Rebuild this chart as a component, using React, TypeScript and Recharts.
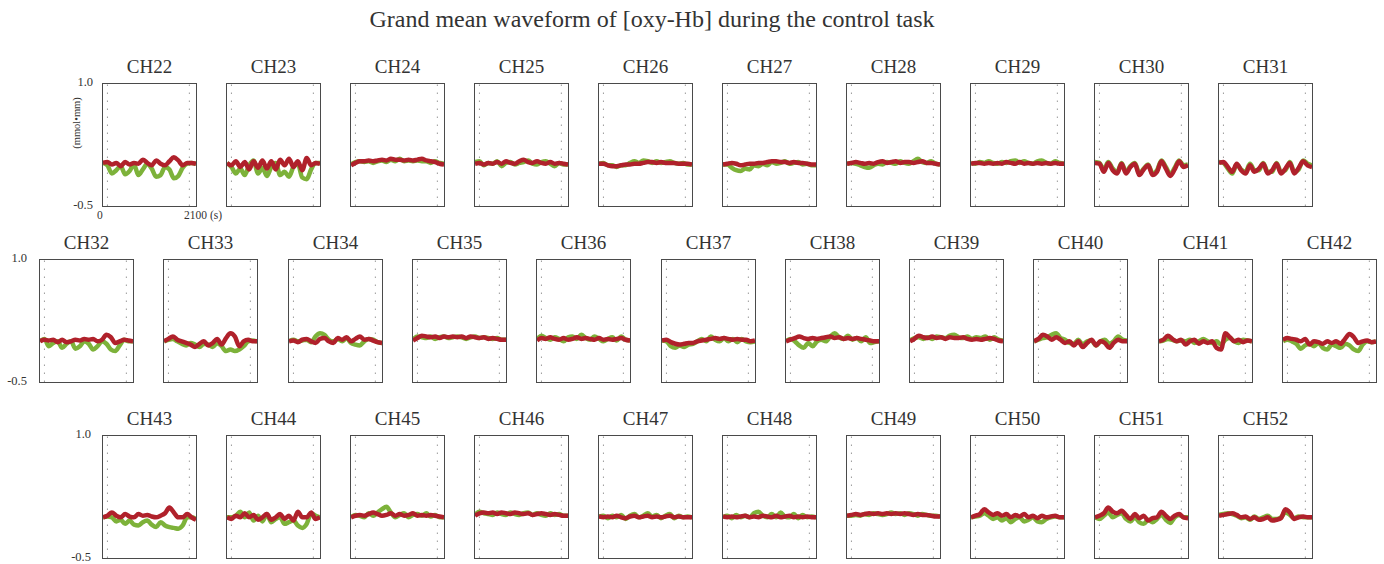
import { LineChart, Line, XAxis, YAxis, ReferenceLine } from 'recharts'

// time axis (s), one sample every 100 s
const times = [0, 100, 200, 300, 400, 500, 600, 700, 800, 900, 1000, 1100, 1200, 1300, 1400, 1500, 1600, 1700, 1800, 1900, 2000, 2100]

const ch22Green = [0.03, 0.0, -0.1, -0.06, -0.01, -0.11, -0.07, 0.01, -0.12, -0.05, 0.02, -0.04, -0.14, -0.12, -0.02, -0.05, -0.16, -0.13, -0.03, 0.02, 0.03, 0.02]
const ch22Red = [0.03, 0.04, 0.01, 0.03, -0.01, 0.04, 0.01, 0.03, 0.02, 0.07, 0.03, 0.0, 0.06, 0.02, 0.0, 0.05, 0.1, 0.06, 0.0, 0.03, 0.03, 0.02]
const ch23Green = [0.03, -0.02, -0.1, -0.04, -0.12, 0.0, 0.06, -0.1, -0.03, -0.13, -0.02, 0.03, -0.12, -0.08, -0.14, -0.02, 0.02, -0.15, -0.17, -0.05, 0.03, 0.03]
const ch23Red = [0.03, 0.0, 0.05, -0.02, 0.04, -0.05, 0.05, -0.03, 0.06, -0.04, 0.05, -0.05, 0.07, 0.0, 0.08, -0.02, 0.05, -0.06, 0.09, 0.0, 0.03, 0.02]
const ch24Green = [0.01, 0.04, 0.05, 0.04, 0.05, 0.03, 0.05, 0.06, 0.04, 0.07, 0.05, 0.08, 0.05, 0.06, 0.05, 0.06, 0.05, 0.05, 0.03, 0.05, 0.03, 0.02]
const ch24Red = [0.0, 0.03, 0.05, 0.05, 0.06, 0.05, 0.06, 0.07, 0.06, 0.08, 0.07, 0.07, 0.06, 0.07, 0.06, 0.07, 0.08, 0.06, 0.05, 0.04, 0.02, 0.01]
const ch25Green = [0.04, 0.05, 0.0, 0.03, 0.02, 0.05, -0.01, 0.03, 0.04, 0.01, 0.03, 0.04, 0.06, 0.02, 0.01, 0.04, 0.05, 0.02, -0.01, 0.03, 0.01, 0.01]
const ch25Red = [0.02, 0.03, 0.01, 0.03, 0.02, 0.04, 0.02, 0.05, 0.03, 0.02, 0.05, 0.07, 0.04, 0.03, 0.05, 0.03, 0.02, 0.04, 0.02, 0.03, 0.02, 0.01]
const ch26Green = [0.02, 0.03, 0.0, 0.0, -0.02, 0.0, 0.0, 0.03, 0.05, 0.03, 0.06, 0.05, 0.03, 0.05, 0.03, 0.04, 0.05, 0.03, 0.02, 0.03, 0.01, 0.01]
const ch26Red = [0.02, 0.02, 0.0, -0.01, -0.01, 0.0, 0.01, 0.01, 0.02, 0.02, 0.03, 0.04, 0.04, 0.03, 0.04, 0.03, 0.03, 0.03, 0.02, 0.02, 0.02, 0.01]
const ch27Green = [0.01, 0.01, -0.03, -0.06, -0.07, -0.04, -0.05, 0.0, -0.01, 0.02, 0.0, 0.04, 0.02, 0.03, 0.05, 0.02, 0.03, 0.04, 0.01, 0.02, 0.0, 0.0]
const ch27Red = [0.01, 0.02, 0.03, 0.02, 0.0, 0.01, 0.02, 0.02, 0.03, 0.03, 0.04, 0.05, 0.05, 0.04, 0.04, 0.03, 0.04, 0.03, 0.03, 0.02, 0.01, 0.01]
const ch28Green = [0.02, 0.03, 0.02, 0.0, -0.02, -0.03, 0.0, 0.02, 0.01, 0.04, 0.03, 0.02, 0.05, 0.03, 0.02, 0.05, 0.08, 0.04, 0.03, 0.05, 0.02, 0.01]
const ch28Red = [0.02, 0.03, 0.04, 0.03, 0.02, 0.03, 0.02, 0.04, 0.05, 0.03, 0.04, 0.05, 0.03, 0.04, 0.04, 0.03, 0.04, 0.05, 0.03, 0.03, 0.02, 0.01]
const ch29Green = [0.03, 0.02, 0.04, 0.03, 0.05, 0.03, 0.02, 0.04, 0.03, 0.05, 0.06, 0.03, 0.05, 0.03, 0.02, 0.05, 0.06, 0.03, 0.02, 0.05, 0.03, 0.02]
const ch29Red = [0.02, 0.03, 0.03, 0.02, 0.03, 0.02, 0.03, 0.02, 0.04, 0.03, 0.02, 0.04, 0.02, 0.03, 0.02, 0.03, 0.02, 0.03, 0.02, 0.03, 0.02, 0.02]
const ch30Green = [0.04, 0.03, -0.05, 0.04, -0.04, -0.08, 0.03, -0.08, -0.01, 0.03, -0.1, -0.04, 0.01, -0.1, -0.06, 0.06, -0.02, -0.11, -0.03, 0.06, 0.0, 0.01]
const ch30Red = [0.03, 0.02, -0.08, 0.03, -0.06, -0.1, 0.02, -0.1, -0.02, 0.02, -0.12, -0.05, 0.0, -0.12, -0.08, 0.05, -0.04, -0.13, -0.05, 0.05, -0.02, 0.0]
const ch31Green = [0.04, 0.03, -0.04, -0.1, 0.01, -0.05, -0.08, 0.02, -0.06, -0.06, 0.03, -0.08, -0.08, 0.03, -0.08, -0.06, 0.04, -0.08, -0.05, 0.06, 0.02, 0.0]
const ch31Red = [0.03, 0.04, -0.02, -0.08, 0.02, -0.06, -0.1, 0.0, -0.08, -0.04, 0.02, -0.1, -0.06, 0.02, -0.1, -0.04, 0.03, -0.1, -0.03, 0.05, 0.0, -0.02]

const ch32Green = [0.0, 0.03, -0.06, -0.02, 0.0, -0.08, -0.03, 0.0, -0.09, -0.06, 0.0, -0.03, -0.1, -0.06, 0.0, -0.03, -0.1, -0.12, -0.05, 0.02, 0.0, 0.0]
const ch32Red = [0.0, 0.02, 0.01, 0.02, -0.01, 0.02, -0.01, 0.0, 0.02, 0.01, 0.03, 0.02, 0.03, 0.0, 0.02, 0.08, 0.05, -0.02, 0.0, 0.02, 0.01, 0.0]
const ch33Green = [0.0, 0.02, 0.03, 0.0, -0.03, -0.05, -0.02, -0.04, -0.07, -0.03, -0.04, -0.07, -0.02, -0.06, -0.12, -0.1, -0.12, -0.1, -0.06, 0.0, 0.01, 0.0]
const ch33Red = [0.0, 0.03, 0.06, 0.02, 0.0, -0.02, -0.04, -0.07, -0.03, 0.0, -0.05, -0.02, 0.03, -0.04, 0.04, 0.1, 0.06, -0.06, 0.0, 0.02, 0.0, 0.0]
const ch34Green = [0.0, 0.02, 0.0, 0.01, 0.02, -0.01, 0.06, 0.1, 0.08, 0.02, 0.0, 0.03, 0.0, 0.04, -0.02, -0.04, -0.05, 0.0, 0.03, 0.02, -0.01, -0.02]
const ch34Red = [0.0, 0.01, -0.01, 0.02, 0.03, 0.0, -0.02, 0.03, 0.04, 0.0, -0.02, 0.04, 0.02, 0.05, 0.0, 0.03, 0.06, 0.02, 0.03, 0.01, -0.01, -0.02]
const ch35Green = [0.02, 0.06, 0.05, 0.04, 0.06, 0.03, 0.05, 0.06, 0.04, 0.05, 0.06, 0.05, 0.03, 0.05, 0.06, 0.04, 0.05, 0.04, 0.03, 0.04, 0.02, 0.02]
const ch35Red = [0.01, 0.04, 0.07, 0.06, 0.05, 0.06, 0.04, 0.06, 0.05, 0.06, 0.05, 0.06, 0.04, 0.06, 0.05, 0.04, 0.05, 0.03, 0.04, 0.03, 0.02, 0.02]
const ch36Green = [0.02, 0.07, 0.04, 0.02, 0.05, 0.03, 0.0, 0.05, 0.06, 0.03, 0.08, 0.04, 0.02, 0.06, 0.03, 0.0, 0.03, 0.05, 0.01, 0.06, 0.02, 0.01]
const ch36Red = [0.01, 0.04, 0.03, 0.05, 0.03, 0.02, 0.04, 0.02, 0.03, 0.05, 0.03, 0.04, 0.03, 0.02, 0.04, 0.02, 0.03, 0.02, 0.03, 0.04, 0.02, 0.01]
const ch37Green = [0.01, 0.0, -0.06, -0.08, -0.05, -0.07, -0.04, -0.03, 0.0, 0.03, 0.0, 0.06, 0.02, 0.0, 0.04, 0.0, 0.03, -0.01, 0.03, 0.0, -0.01, 0.0]
const ch37Red = [0.01, 0.02, -0.01, -0.03, -0.04, -0.03, -0.02, -0.02, 0.0, 0.01, 0.02, 0.03, 0.04, 0.03, 0.04, 0.03, 0.02, 0.03, 0.02, 0.02, 0.0, 0.01]
const ch38Green = [0.0, 0.03, 0.0, -0.05, -0.08, -0.02, -0.06, 0.0, 0.02, 0.0, 0.06, 0.1, 0.05, 0.03, 0.07, 0.02, 0.04, 0.0, 0.05, -0.02, -0.01, 0.0]
const ch38Red = [0.0, 0.02, 0.04, 0.06, 0.04, 0.03, 0.04, 0.03, 0.04, 0.05, 0.06, 0.04, 0.05, 0.03, 0.04, 0.03, 0.04, 0.03, 0.02, 0.01, 0.0, 0.0]
const ch39Green = [0.01, 0.04, 0.05, 0.03, 0.05, 0.03, 0.06, 0.05, 0.04, 0.07, 0.08, 0.05, 0.04, 0.06, 0.03, 0.05, 0.04, 0.06, 0.02, 0.05, 0.02, 0.01]
const ch39Red = [0.0, 0.03, 0.07, 0.05, 0.04, 0.06, 0.04, 0.05, 0.03, 0.05, 0.04, 0.04, 0.05, 0.03, 0.02, 0.03, 0.02, 0.03, 0.04, 0.03, 0.01, 0.0]
const ch40Green = [0.0, 0.02, 0.04, 0.05, 0.08, 0.1, 0.04, 0.02, -0.02, -0.03, 0.02, -0.04, 0.0, 0.01, -0.05, 0.0, 0.02, -0.03, 0.0, 0.06, 0.02, 0.01]
const ch40Red = [0.0, 0.03, 0.08, 0.06, 0.02, 0.05, 0.02, -0.02, 0.0, -0.05, 0.0, -0.07, -0.02, 0.02, -0.05, 0.0, -0.02, -0.08, -0.02, 0.02, 0.0, 0.0]
const ch41Green = [0.0, 0.01, 0.03, 0.02, 0.0, 0.01, 0.0, 0.02, -0.02, 0.0, 0.03, 0.0, -0.02, 0.0, -0.04, 0.02, 0.04, 0.0, -0.02, 0.02, 0.01, 0.0]
const ch41Red = [0.0, 0.02, 0.07, 0.03, 0.0, 0.02, -0.04, 0.0, 0.02, -0.03, 0.0, -0.02, 0.0, -0.08, -0.1, 0.1, 0.05, 0.0, 0.02, -0.01, 0.01, 0.0]
const ch42Green = [0.0, 0.02, 0.0, -0.03, -0.09, -0.05, -0.03, -0.06, -0.02, -0.08, -0.1, -0.04, -0.06, -0.08, -0.03, -0.05, -0.1, -0.12, -0.04, 0.0, -0.01, 0.0]
const ch42Red = [0.02, 0.04, 0.03, 0.02, 0.0, 0.03, -0.04, 0.0, -0.01, -0.03, 0.0, -0.02, 0.0, -0.03, 0.03, 0.09, 0.05, -0.02, 0.0, 0.01, -0.01, 0.0]

const ch43Green = [0.0, 0.01, 0.0, -0.05, -0.03, -0.08, -0.04, -0.09, -0.1, -0.06, -0.04, -0.09, -0.12, -0.06, -0.1, -0.12, -0.13, -0.14, -0.1, 0.0, 0.0, -0.02]
const ch43Red = [0.0, 0.02, 0.06, 0.02, 0.0, 0.04, 0.01, 0.0, 0.04, 0.02, 0.03, 0.01, 0.0, 0.02, 0.05, 0.12, 0.06, 0.0, 0.0, 0.04, 0.0, -0.03]
const ch44Green = [0.0, 0.0, 0.02, 0.07, 0.0, 0.06, -0.04, 0.02, -0.05, 0.04, -0.06, -0.02, 0.0, -0.08, -0.06, -0.04, -0.1, -0.13, -0.08, 0.05, 0.02, 0.0]
const ch44Red = [0.0, -0.02, 0.02, 0.0, 0.05, 0.0, 0.03, -0.03, 0.0, 0.04, -0.03, 0.0, 0.04, -0.02, 0.02, -0.04, 0.07, 0.0, 0.0, 0.06, -0.02, 0.0]
const ch45Green = [0.0, 0.03, 0.02, 0.0, 0.05, 0.02, 0.06, 0.1, 0.13, 0.06, 0.0, 0.03, 0.05, 0.0, 0.03, 0.04, 0.02, 0.05, 0.01, 0.03, 0.0, 0.0]
const ch45Red = [0.0, 0.02, 0.03, 0.02, 0.04, 0.06, 0.04, 0.02, 0.03, 0.05, 0.02, 0.04, 0.02, 0.03, 0.05, 0.02, 0.03, 0.02, 0.03, 0.02, 0.01, 0.0]
const ch46Green = [0.03, 0.07, 0.05, 0.04, 0.03, 0.06, 0.04, 0.03, 0.06, 0.04, 0.03, 0.05, 0.06, 0.03, 0.05, 0.03, 0.02, 0.05, 0.03, 0.04, 0.02, 0.02]
const ch46Red = [0.02, 0.05, 0.06, 0.05, 0.06, 0.04, 0.06, 0.05, 0.04, 0.06, 0.05, 0.04, 0.05, 0.03, 0.04, 0.05, 0.04, 0.03, 0.04, 0.03, 0.02, 0.02]
const ch47Green = [0.01, 0.02, -0.01, 0.02, 0.0, 0.03, -0.02, 0.02, 0.04, 0.0, 0.02, 0.05, 0.01, 0.03, -0.01, 0.02, 0.04, -0.01, 0.02, 0.0, 0.01, 0.0]
const ch47Red = [0.01, 0.0, 0.01, 0.0, 0.02, 0.0, -0.01, 0.01, 0.02, 0.0, 0.01, 0.02, 0.0, 0.01, 0.0, 0.01, 0.02, 0.0, 0.01, 0.0, 0.0, 0.0]
const ch48Green = [0.0, 0.02, -0.01, 0.03, 0.0, 0.02, 0.0, 0.05, 0.07, 0.02, 0.0, 0.04, 0.0, 0.06, 0.01, 0.0, 0.04, -0.01, 0.03, 0.0, 0.01, 0.0]
const ch48Red = [0.01, 0.0, 0.01, 0.0, 0.01, 0.02, 0.0, 0.01, 0.0, 0.02, 0.01, 0.0, 0.02, 0.0, 0.01, 0.02, 0.0, 0.01, 0.0, 0.01, 0.0, 0.0]
const ch49Green = [0.02, 0.02, 0.03, 0.02, 0.04, 0.03, 0.05, 0.04, 0.03, 0.04, 0.06, 0.04, 0.05, 0.03, 0.05, 0.04, 0.02, 0.04, 0.03, 0.02, 0.02, 0.01]
const ch49Red = [0.02, 0.03, 0.04, 0.03, 0.04, 0.05, 0.04, 0.05, 0.04, 0.05, 0.04, 0.05, 0.04, 0.05, 0.04, 0.03, 0.04, 0.03, 0.03, 0.02, 0.01, 0.01]
const ch50Green = [0.0, 0.01, 0.02, 0.05, 0.02, -0.02, 0.0, -0.04, -0.01, -0.06, -0.02, 0.0, -0.05, -0.03, 0.0, -0.05, -0.06, -0.02, 0.0, 0.01, 0.0, 0.0]
const ch50Red = [0.0, 0.02, 0.04, 0.1, 0.06, 0.03, 0.05, 0.02, 0.04, 0.0, 0.03, 0.01, 0.04, 0.0, 0.02, -0.01, 0.02, 0.0, 0.01, 0.02, 0.0, 0.0]
const ch51Green = [0.0, -0.02, 0.02, 0.06, 0.0, 0.03, 0.05, -0.02, -0.05, 0.0, -0.06, -0.08, -0.03, -0.06, -0.02, 0.03, -0.03, -0.07, 0.0, 0.03, 0.0, 0.0]
const ch51Red = [0.0, 0.02, 0.05, 0.12, 0.07, 0.05, 0.08, 0.03, -0.02, 0.04, -0.01, 0.02, -0.04, -0.01, 0.0, 0.07, 0.02, -0.02, 0.02, 0.04, 0.0, -0.01]
const ch52Green = [0.03, 0.04, 0.05, 0.04, 0.02, -0.01, 0.0, -0.03, 0.01, -0.02, 0.0, 0.02, -0.02, -0.02, 0.0, 0.06, 0.03, -0.01, 0.01, 0.0, 0.0, 0.0]
const ch52Red = [0.02, 0.03, 0.04, 0.05, 0.03, 0.0, 0.01, -0.02, 0.0, -0.03, -0.02, 0.0, -0.04, -0.03, -0.01, 0.1, 0.06, -0.02, 0.0, 0.01, 0.0, 0.0]

const row1 = [
  ['CH22', ch22Green, ch22Red], ['CH23', ch23Green, ch23Red], ['CH24', ch24Green, ch24Red],
  ['CH25', ch25Green, ch25Red], ['CH26', ch26Green, ch26Red], ['CH27', ch27Green, ch27Red],
  ['CH28', ch28Green, ch28Red], ['CH29', ch29Green, ch29Red], ['CH30', ch30Green, ch30Red],
  ['CH31', ch31Green, ch31Red],
]
const row2 = [
  ['CH32', ch32Green, ch32Red], ['CH33', ch33Green, ch33Red], ['CH34', ch34Green, ch34Red],
  ['CH35', ch35Green, ch35Red], ['CH36', ch36Green, ch36Red], ['CH37', ch37Green, ch37Red],
  ['CH38', ch38Green, ch38Red], ['CH39', ch39Green, ch39Red], ['CH40', ch40Green, ch40Red],
  ['CH41', ch41Green, ch41Red], ['CH42', ch42Green, ch42Red],
]
const row3 = [
  ['CH43', ch43Green, ch43Red], ['CH44', ch44Green, ch44Red], ['CH45', ch45Green, ch45Red],
  ['CH46', ch46Green, ch46Red], ['CH47', ch47Green, ch47Red], ['CH48', ch48Green, ch48Red],
  ['CH49', ch49Green, ch49Red], ['CH50', ch50Green, ch50Red], ['CH51', ch51Green, ch51Red],
  ['CH52', ch52Green, ch52Red],
]

const GREEN = '#7db23a'
const RED = '#b0212b'
const TEXT = '#333'
const BOX_W = 95
const BOX_H = 124

function Panel({ name, green, red, left, top }: { name: string; green: number[]; red: number[]; left: number; top: number }) {
  const data = times.map((t, i) => ({ t, green: green[i], red: red[i] }))
  return (
    <>
      <div
        style={{
          position: 'absolute',
          left: left - 20,
          width: BOX_W + 40,
          top: top - 26,
          textAlign: 'center',
          fontSize: 19,
          lineHeight: '19px',
          color: TEXT,
        }}
      >
        {name}
      </div>
      <div
        style={{
          position: 'absolute',
          left,
          top,
          width: BOX_W,
          height: BOX_H,
          border: '1px solid #4a4a4a',
          boxSizing: 'border-box',
          background: '#fff',
        }}
      >
        <LineChart width={BOX_W - 2} height={BOX_H - 2} data={data} margin={{ top: 0, right: 0, bottom: 0, left: 0 }}>
          <XAxis dataKey="t" type="number" domain={[0, 2100]} hide />
          <YAxis domain={[-0.5, 1.0]} hide />
          <ReferenceLine x={100} stroke="#9a9a9a" strokeDasharray="1.5 6.5" />
          <ReferenceLine x={1950} stroke="#9a9a9a" strokeDasharray="1.5 6.5" />
          <Line type="monotone" dataKey="green" stroke={GREEN} strokeWidth={4.5} dot={false} isAnimationActive={false} strokeLinejoin="round" />
          <Line type="monotone" dataKey="red" stroke={RED} strokeWidth={4.5} dot={false} isAnimationActive={false} strokeLinejoin="round" />
        </LineChart>
      </div>
    </>
  )
}

function YTicks({ right, top }: { right: number; top: number }) {
  const common = { position: 'absolute' as const, width: 40, textAlign: 'right' as const, fontSize: 12.5, lineHeight: '11px', color: TEXT }
  return (
    <>
      <div style={{ ...common, left: right - 40, top: top - 6 }}>1.0</div>
      <div style={{ ...common, left: right - 40, top: top + BOX_H - 7 }}>-0.5</div>
    </>
  )
}

export default function App() {
  return (
    <div
      style={{
        position: 'absolute',
        left: 0,
        top: 0,
        width: 1384,
        height: 564,
        background: '#fff',
        fontFamily: '"Liberation Serif", "DejaVu Serif", serif',
        color: TEXT,
        overflow: 'hidden',
      }}
    >
      <div style={{ position: 'absolute', left: 0, width: 1304, top: 7, textAlign: 'center', fontSize: 24, lineHeight: '24px' }}>
        Grand mean waveform of [oxy-Hb] during the control task
      </div>

      <YTicks right={93} top={83} />
      <div
        style={{
          position: 'absolute',
          left: 77 - 40,
          top: 123 - 7,
          width: 80,
          height: 14,
          textAlign: 'center',
          fontSize: 10.5,
          lineHeight: '14px',
          transform: 'rotate(-90deg)',
        }}
      >
        (mmol•mm)
      </div>
      <div style={{ position: 'absolute', left: 97, top: 209, fontSize: 11.5, lineHeight: '12px' }}>0</div>
      <div style={{ position: 'absolute', left: 184, top: 209, fontSize: 11.5, lineHeight: '12px' }}>2100 (s)</div>
      {row1.map(([name, g, r], i) => (
        <Panel key={name as string} name={name as string} green={g as number[]} red={r as number[]} left={102 + i * 124} top={83} />
      ))}

      <YTicks right={27} top={259} />
      {row2.map(([name, g, r], i) => (
        <Panel key={name as string} name={name as string} green={g as number[]} red={r as number[]} left={Math.round(39 + i * 124.3)} top={259} />
      ))}

      <YTicks right={91} top={435} />
      {row3.map(([name, g, r], i) => (
        <Panel key={name as string} name={name as string} green={g as number[]} red={r as number[]} left={102 + i * 124} top={435} />
      ))}
    </div>
  )
}
